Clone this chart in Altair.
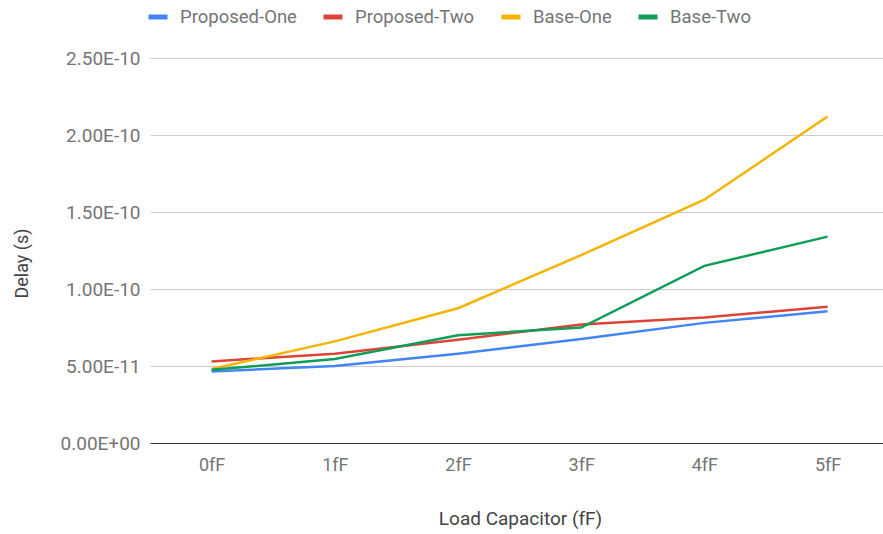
import altair as alt
import pandas as pd

# Load capacitance steps on the x axis
loads = ["0fF", "1fF", "2fF", "3fF", "4fF", "5fF"]

# Measured delay (seconds) for each design
proposed_one = [4.65e-11, 5.0e-11, 5.8e-11, 6.75e-11, 7.8e-11, 8.55e-11]
proposed_two = [5.3e-11, 5.8e-11, 6.7e-11, 7.7e-11, 8.15e-11, 8.85e-11]
base_one = [4.8e-11, 6.6e-11, 8.75e-11, 1.22e-10, 1.58e-10, 2.12e-10]
base_two = [4.75e-11, 5.45e-11, 7.0e-11, 7.5e-11, 1.15e-10, 1.34e-10]

series_names = ["Proposed-One", "Proposed-Two", "Base-One", "Base-Two"]
series_values = [proposed_one, proposed_two, base_one, base_two]
series_colors = ["#4285F4", "#DB4437", "#F4B400", "#0F9D58"]

y_ticks = [0, 5e-11, 1e-10, 1.5e-10, 2e-10, 2.5e-10]

rows = []
for order, (name, vals) in enumerate(zip(series_names, series_values)):
    for i, (load, v) in enumerate(zip(loads, vals)):
        rows.append({"idx": i, "Load": load, "Delay": v, "Series": name, "order": order})
df = pd.DataFrame(rows)

# category index -> label text on the x axis
load_label_expr = "[" + ",".join(f"'{s}'" for s in loads) + "][datum.value]"

FONT = "Roboto"
TEXT_GREY = "#757575"
TITLE_GREY = "#444444"

chart = (
    alt.Chart(df)
    .mark_line(strokeWidth=2.5)
    .encode(
        x=alt.X(
            "idx:Q",
            scale=alt.Scale(domain=[-0.5, 5.45], nice=False, zero=False),
            axis=alt.Axis(
                title="Load Capacitor (fF)",
                values=list(range(len(loads))),
                labelExpr=load_label_expr,
                labelAngle=0,
                ticks=False,
                grid=False,
                domain=True,
                domainColor="#333333",
                domainWidth=1,
                labelPadding=13,
                labelFontSize=18,
                labelColor=TEXT_GREY,
                labelFlush=False,
                titleFontSize=19,
                titleFontWeight="normal",
                titleColor=TITLE_GREY,
                titleX=370,
                titleY=75,
                titleBaseline="middle",
                titleAlign="center",
            ),
        ),
        y=alt.Y(
            "Delay:Q",
            scale=alt.Scale(domain=[0, 2.5e-10], nice=False),
            axis=alt.Axis(
                title="Delay (s)",
                values=y_ticks,
                labelExpr="datum.value == 0 ? '0.00E+00' : upper(format(datum.value, '.2e'))",
                ticks=False,
                domain=False,
                grid=True,
                gridColor="#cccccc",
                gridWidth=1,
                labelPadding=10,
                labelFontSize=19,
                labelColor=TEXT_GREY,
                titleFontSize=18,
                titleFontWeight="normal",
                titleColor=TITLE_GREY,
                titleAngle=270,
                titleX=-128,
                titleY=205,
                titleAlign="center",
                titleBaseline="middle",
            ),
        ),
        color=alt.Color(
            "Series:N",
            scale=alt.Scale(domain=series_names, range=series_colors),
            legend=alt.Legend(
                title=None,
                orient="none",
                direction="horizontal",
                legendX=-4,
                legendY=-53,
                symbolType="stroke",
                symbolStrokeWidth=5,
                symbolSize=361,
                labelFontSize=18.5,
                labelColor=TEXT_GREY,
                labelOffset=10,
                columnPadding=16,
            ),
        ),
        order=alt.Order("order:Q"),
        detail="Series:N",
    )
    .properties(
        width=733,
        height=385,
        padding={"left": 150, "top": 58, "right": 0, "bottom": 91},
        autosize=alt.AutoSizeParams(type="none"),
    )
    .configure(font=FONT)
    .configure_view(stroke=None)
)

chart.save("out.html", embed_options={"renderer": "svg", "actions": False})
